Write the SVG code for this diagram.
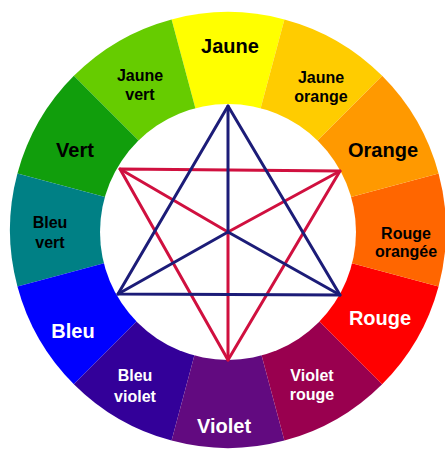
<svg xmlns="http://www.w3.org/2000/svg" width="445" height="450" viewBox="0 0 445 450">
<style>
.lbl{font-family:"Liberation Sans",Arial,sans-serif;font-weight:bold;text-anchor:middle}
.big{font-size:20px}
.sm{font-size:16px}
.dk{fill:#000}
.wt{fill:#fff}
.blue{stroke:#1c1c78;stroke-width:3;fill:none;stroke-linejoin:round;stroke-linecap:round}
.red{stroke:#d0103f;stroke-width:3;fill:none;stroke-linejoin:round;stroke-linecap:round}
</style>
<rect width="445" height="450" fill="#fff"/>
<g id="jaune"><path d="M228 230 L284.42 19.43 A218 218 0 0 0 171.58 19.43 Z" fill="#ffff00"/><text class="lbl big dk" x="230" y="53">Jaune</text></g>
<g id="jaune-vert"><path d="M228 230 L171.58 19.43 A218 218 0 0 0 73.85 75.85 Z" fill="#66cc00"/><text class="lbl sm dk" x="140" y="81">Jaune</text><text class="lbl sm dk" x="140" y="100">vert</text></g>
<g id="vert"><path d="M228 230 L73.85 75.85 A218 218 0 0 0 17.43 173.58 Z" fill="#119e0c"/><text class="lbl big dk" x="75" y="157">Vert</text></g>
<g id="bleu-vert"><path d="M228 230 L17.43 173.58 A218 218 0 0 0 17.43 286.42 Z" fill="#008085"/><text class="lbl sm dk" x="50" y="228">Bleu</text><text class="lbl sm dk" x="50" y="248">vert</text></g>
<g id="bleu"><path d="M228 230 L17.43 286.42 A218 218 0 0 0 73.85 384.15 Z" fill="#0000ff"/><text class="lbl big wt" x="73" y="338">Bleu</text></g>
<g id="bleu-violet"><path d="M228 230 L73.85 384.15 A218 218 0 0 0 171.58 440.57 Z" fill="#330099"/><text class="lbl sm wt" x="135" y="381">Bleu</text><text class="lbl sm wt" x="135" y="402">violet</text></g>
<g id="violet"><path d="M228 230 L171.58 440.57 A218 218 0 0 0 284.42 440.57 Z" fill="#620a80"/><text class="lbl big wt" x="224" y="433">Violet</text></g>
<g id="violet-rouge"><path d="M228 230 L284.42 440.57 A218 218 0 0 0 382.15 384.15 Z" fill="#99004f"/><text class="lbl sm wt" x="312" y="381">Violet</text><text class="lbl sm wt" x="312" y="400">rouge</text></g>
<g id="rouge"><path d="M228 230 L382.15 384.15 A218 218 0 0 0 438.57 286.42 Z" fill="#ff0000"/><text class="lbl big wt" x="380" y="325">Rouge</text></g>
<g id="rouge-orangee"><path d="M228 230 L438.57 286.42 A218 218 0 0 0 438.57 173.58 Z" fill="#ff6600"/><text class="lbl sm dk" x="406" y="239">Rouge</text><text class="lbl sm dk" x="406" y="257">orangée</text></g>
<g id="orange"><path d="M228 230 L438.57 173.58 A218 218 0 0 0 382.15 75.85 Z" fill="#ff9900"/><text class="lbl big dk" x="383" y="157">Orange</text></g>
<g id="jaune-orange"><path d="M228 230 L382.15 75.85 A218 218 0 0 0 284.42 19.43 Z" fill="#ffcc00"/><text class="lbl sm dk" x="321" y="83">Jaune</text><text class="lbl sm dk" x="321" y="102">orange</text></g>
<circle id="centre" cx="228" cy="232" r="128" fill="#fff"/>
<g id="connectors">
<g class="red">
<polygon points="120,169 340,171 228,360"/>
<polyline points="120,169 228,232 340,171"/>
<line x1="228" y1="232" x2="228" y2="360"/>
</g>
<g class="blue">
<polygon points="228,106 340,295 118,294"/>
<polyline points="118,294 228,232 340,295"/>
<line x1="228" y1="106" x2="228" y2="232"/>
</g>
</g>
</svg>
